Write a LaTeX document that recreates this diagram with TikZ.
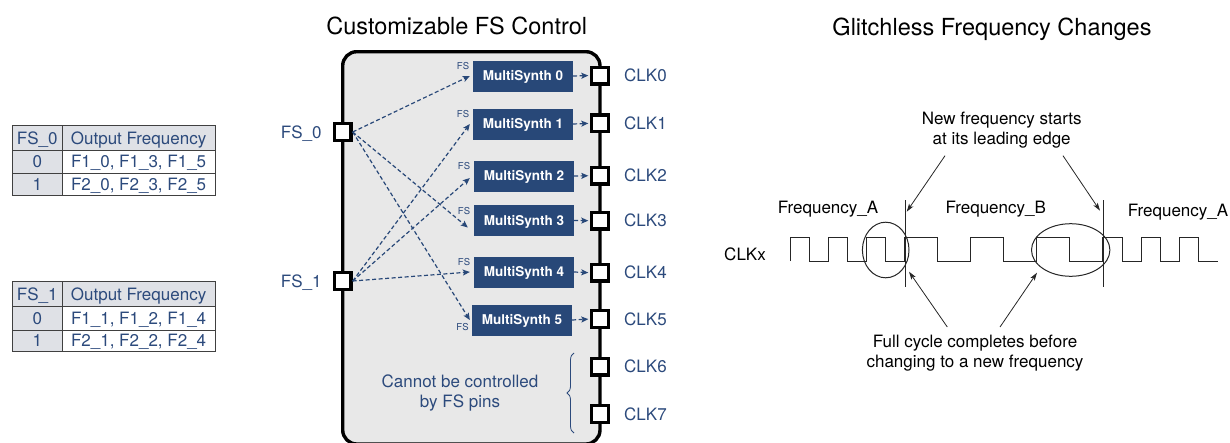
\documentclass[tikz,border=0pt]{standalone}
\usepackage{fontspec}
\setmainfont{TeX Gyre Heros}
\usetikzlibrary{positioning,arrows.meta,decorations.pathreplacing}
\definecolor{fsblue}{HTML}{2C4A7C}
\definecolor{msblue}{HTML}{284878}
\definecolor{boxgray}{HTML}{E8E8E8}
\definecolor{tblgray}{HTML}{DFE1E6}
\tikzset{
  txt/.style={inner sep=0pt,font=\fontsize{17}{20}\selectfont,text height=12.2pt,text depth=0pt},
  bluetxt/.style={txt,text=fsblue},
  multitxt/.style={inner sep=0pt,font=\fontsize{17}{20}\selectfont,align=center,anchor=north},
  pinbox/.style={draw=black,line width=3.4pt,fill=white,minimum size=16.6pt,inner sep=0pt},
  msbox/.style={fill=msblue,text=white,minimum width=100pt,minimum height=31pt,inner sep=0pt,
    font=\fontsize{13.5}{16}\selectfont\bfseries,text height=9.7pt,text depth=0pt},
  fstag/.style={inner sep=0pt,text=fsblue,font=\fontsize{9.5}{11}\selectfont},
  fsline/.style={msblue,line width=1.2pt,dash pattern=on 4pt off 2.5pt,
    -{Stealth[length=7pt,width=6pt,inset=1.5pt]}},
  wave/.style={line width=1pt,black!85},
  notearrow/.style={line width=0.8pt,black!85,-{Stealth[length=8pt,width=5pt,inset=2pt]}},
  tblline/.style={black!75,line width=1pt}
}
\begin{document}
\begin{tikzpicture}[x=1pt,y=-1pt]
  \clip (0,0) rectangle (1230,442);
  %%%%%%%%%%%%%The FS_0 table%%%%%%%%%%%%%%%%%%%%%%
  \fill[tblgray] (12.3,125.7) rectangle (215,150) (12.3,150) rectangle (62.3,195.7);
  \draw[tblline] (12.3,125.7) rectangle (215,195.7);
  \draw[tblline] (62.3,125.7) -- (62.3,195.7);
  \draw[tblline] (12.3,150) -- (215,150);
  \draw[tblline] (12.3,173.3) -- (215,173.3);
  \node[bluetxt] (tA11) at (37.3,137.9) {FS\_0};
  \node[bluetxt] (tA12) at (138.6,137.9) {Output Frequency};
  \node[bluetxt] (tA21) at (37.3,161.7) {0};
  \node[bluetxt] (tA22) at (138.6,161.7) {F1\_0, F1\_3, F1\_5};
  \node[bluetxt] (tA31) at (37.3,184.5) {1};
  \node[bluetxt] (tA32) at (138.6,184.5) {F2\_0, F2\_3, F2\_5};

  %%%%%%%%%%%%%The FS_1 table%%%%%%%%%%%%%%%%%%%%%%
  \fill[tblgray] (12.3,281.7) rectangle (215,306.7) (12.3,306.7) rectangle (62.3,351.7);
  \draw[tblline] (12.3,281.7) rectangle (215,351.7);
  \draw[tblline] (62.3,281.7) -- (62.3,351.7);
  \draw[tblline] (12.3,306.7) -- (215,306.7);
  \draw[tblline] (12.3,330) -- (215,330);
  \node[bluetxt] (tB11) at (37.3,294.2) {FS\_1};
  \node[bluetxt] (tB12) at (138.6,294.2) {Output Frequency};
  \node[bluetxt] (tB21) at (37.3,318.3) {0};
  \node[bluetxt] (tB22) at (138.6,318.3) {F1\_1, F1\_2, F1\_4};
  \node[bluetxt] (tB31) at (37.3,340.8) {1};
  \node[bluetxt] (tB32) at (138.6,340.8) {F2\_1, F2\_2, F2\_4};

  %%%%%%%%%%%%%The FS control block%%%%%%%%%%%%%%%%%%%%%%
  \node[font=\fontsize{23.5}{28}\selectfont,inner sep=0pt,text height=17pt,text depth=0pt] (ttlFS) at (456.7,26) {Customizable FS Control};
  \draw[line width=3.4pt,rounded corners=14pt,fill=boxgray] (342.7,51.7) rectangle (600,444);

  \foreach \i/\x/\y in {0/523/76,1/523/124,2/524/176,3/524/220.5,4/524/272,5/522/320}
    \node[msbox] (ms\i) at (\x,\y) {MultiSynth \i};
  \foreach \i in {0,...,4}
    \node[fstag,anchor=north east] (fst\i) at ([xshift=-3.5pt,yshift=-2pt]ms\i.north west) {FS};
  \node[fstag,anchor=south east] (fst5) at ([xshift=-3pt,yshift=5pt]ms5.south west) {FS};

  \foreach \i/\y in {0/75.5,1/123.3,2/175.7,3/220.7,4/272.7,5/319,6/366.7,7/414} {
    \node[pinbox] (clk\i) at (600,\y) {};
    \node[bluetxt,right=14pt of clk\i] (clkl\i) {CLK\i};
  }
  \foreach \i in {0,...,5}
    \draw[fsline,shorten >=1.7pt] (ms\i.east) -- (clk\i.west);

  \node[pinbox] (fs0) at (342.7,132) {};
  \node[pinbox] (fs1) at (342.7,281) {};
  \node[bluetxt,left=11pt of fs0] (fs0l) {FS\_0};
  \node[bluetxt,left=11pt of fs1] (fs1l) {FS\_1};

  \draw[fsline] (fs0.east) -- ([xshift=-3pt]ms0.west);
  \draw[fsline] (fs0.east) -- ([xshift=-6pt,yshift=-7pt]ms3.west);
  \draw[fsline] (fs0.east) -- ([xshift=-2pt]ms5.west);
  \draw[fsline] (fs1.east) -- ([xshift=-3pt]ms1.west);
  \draw[fsline] (fs1.east) -- ([xshift=-4pt,yshift=-2pt]ms2.west);
  \draw[fsline] (fs1.east) -- ([xshift=-4pt]ms4.west);

  \node[multitxt,text=fsblue] (nofs) at (460,374.4) {Cannot be controlled\\by FS pins};
  \draw[fsblue,line width=0.8pt,decorate,decoration={brace,amplitude=7pt}] (574,433) -- (574,353);

  %%%%%%%%%%%%%The glitchless waveform%%%%%%%%%%%%%%%%%%%%%%
  \node[font=\fontsize{23.5}{28}\selectfont,inner sep=0pt,text height=17pt,text depth=0pt] (ttlGL) at (992,27) {Glitchless Frequency Changes};
  \node[txt] (clkx) at (745,254) {CLKx};
  \node[txt] (frqA) at (828,207.5) {Frequency\_A};
  \node[txt] (frqB) at (995.7,207.5) {Frequency\_B};
  \node[txt] (frqC) at (1178,210) {Frequency\_A};

  \draw[wave] (790,261) \foreach \w in {19.15,19.15,19.15,33,33,33,19.15,19.15,19.15}
    {-- ++(0,-23.3) -- ++(\w,0) -- ++(0,23.3) -- ++(\w,0)};
  \coordinate (edgeB) at (905,200);
  \coordinate (edgeA) at (1103,200);
  \draw[wave] (edgeB) -- ++(0,87);
  \draw[wave] (edgeA) -- ++(0,87);
  \draw[wave] (885.7,250) ellipse [x radius=23.3pt,y radius=27.8pt];
  \draw[wave] (1070.7,250) ellipse [x radius=39.2pt,y radius=26.3pt];

  \node[multitxt] (newfrq) at (1001.7,111.4) {New frequency starts\\at its leading edge};
  \node[multitxt] (fullcyc) at (975,334.7) {Full cycle completes before\\changing to a new frequency};

  \coordinate (nfL) at (945,155.7);
  \coordinate (nfR) at (1063,155.7);
  \coordinate (tipB) at (906.7,211.7);
  \coordinate (tipA) at (1100,210.7);
  \draw[notearrow] (nfL) -- (tipB);
  \draw[notearrow] (nfR) -- (tipA);

  \coordinate (fcL) at (947.3,327);
  \coordinate (fcR) at (1000,327);
  \coordinate (endA) at (909,271.7);
  \coordinate (endB) at (1037,272.7);
  \draw[notearrow] (fcL) -- (endA);
  \draw[notearrow] (fcR) -- (endB);
\end{tikzpicture}
\end{document}
